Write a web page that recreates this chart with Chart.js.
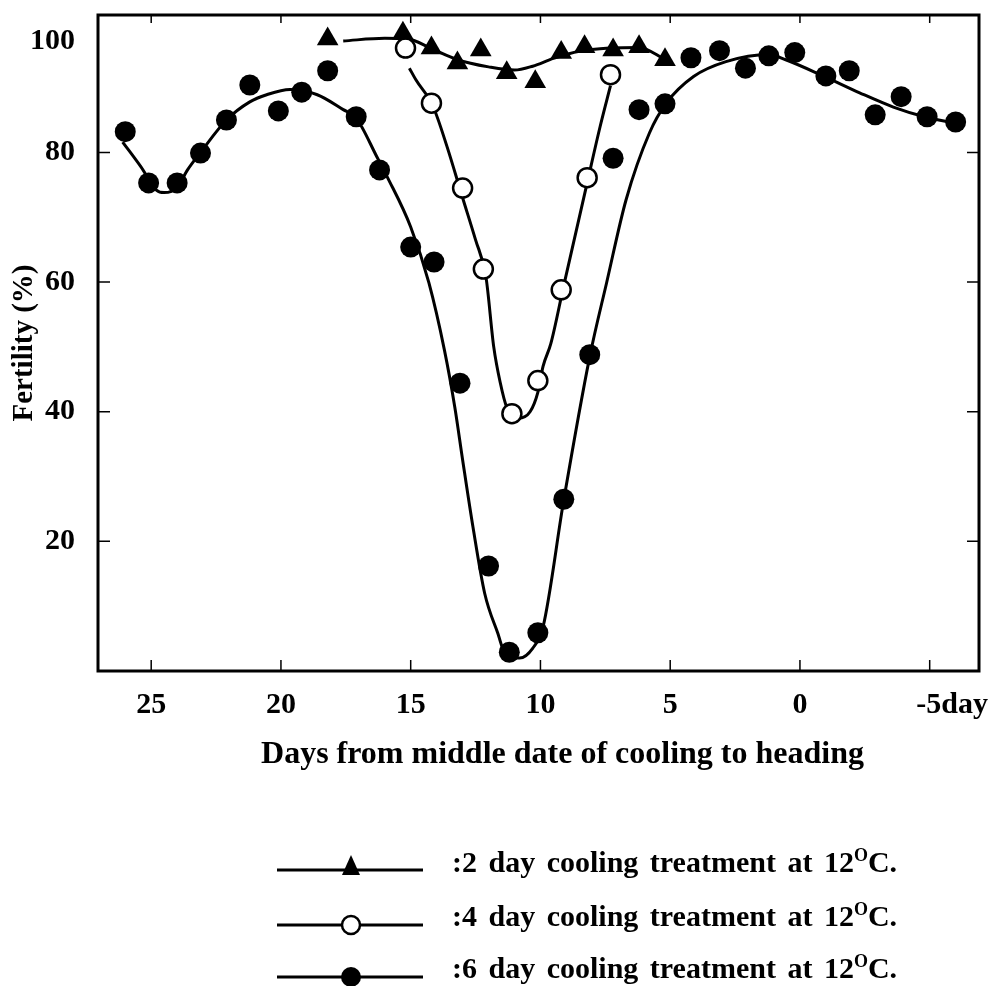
<!DOCTYPE html>
<html>
<head>
<meta charset="utf-8">
<title>Fertility after cooling treatment</title>
<script src="https://cdn.jsdelivr.net/npm/chart.js@4.4.1/dist/chart.umd.min.js"></script>
<style>
	html, body { margin: 0; padding: 0; background: #fff; overflow: hidden; }
	#wrap { position: relative; width: 994px; height: 986px; overflow: hidden; }
	#fertilityChart { position: absolute; left: 0; top: 0; }
	.key { position: absolute; left: 277px; }
	.key-text {
		position: absolute;
		left: 452px;
		font: bold 30px 'Liberation Serif', 'Times New Roman', serif;
		line-height: 30px;
		word-spacing: 4px;
		white-space: nowrap;
		color: #000;
	}
	.key-text sup { font-size: 60%; vertical-align: super; line-height: 0; }
</style>
</head>
<body>
<div id="wrap">
	<canvas id="fertilityChart" width="994" height="1000"></canvas>

	<svg class="key" style="top:855px" width="146" height="30">
		<line x1="0" y1="15" x2="146" y2="15" stroke="#000" stroke-width="3"/>
		<polygon points="74,0 65,20 83,20" fill="#000"/>
	</svg>
	<div class="key-text" style="top:847px">:2 day cooling treatment at 12<sup>O</sup>C.</div>

	<svg class="key" style="top:910px" width="146" height="30">
		<line x1="0" y1="15" x2="146" y2="15" stroke="#000" stroke-width="3"/>
		<circle cx="74" cy="15" r="9" fill="#fff" stroke="#000" stroke-width="2.5"/>
	</svg>
	<div class="key-text" style="top:901px">:4 day cooling treatment at 12<sup>O</sup>C.</div>

	<svg class="key" style="top:962px" width="146" height="30">
		<line x1="0" y1="15" x2="146" y2="15" stroke="#000" stroke-width="3"/>
		<circle cx="74" cy="15" r="10" fill="#000"/>
	</svg>
	<div class="key-text" style="top:953px">:6 day cooling treatment at 12<sup>O</sup>C.</div>
</div>

<script>
	// ticks
	const xTickValues = [25, 20, 15, 10, 5, 0, -5];
	const xTickLabels = ['25', '20', '15', '10', '5', '0', '-5day'];
	const yTickValues = [20, 40, 60, 80, 100];

	// measured points: days from middle date of cooling to heading, fertility (%)
	const twoDayDays = [18.2, 15.3, 14.2, 13.2, 12.3, 11.3, 10.2, 9.2, 8.3, 7.2, 6.2, 5.2];
	const twoDayFertility = [97.5, 98.4, 96.1, 93.8, 95.8, 92.3, 90.9, 95.4, 96.3, 95.8, 96.3, 94.3];

	const fourDayDays = [15.2, 14.2, 13.0, 12.2, 11.1, 10.1, 9.2, 8.2, 7.3];
	const fourDayFertility = [96.1, 87.6, 74.5, 62.0, 39.7, 44.8, 58.8, 76.1, 92.0];

	const sixDayDays = [26.0, 25.1, 24.0, 23.1, 22.1, 21.2, 20.1, 19.2, 18.2, 17.1, 16.2, 15.0, 14.1, 13.1, 12.0, 11.2, 10.1, 9.1, 8.1, 7.2, 6.2, 5.2, 4.2, 3.1, 2.1, 1.2, 0.2, -1.0, -1.9, -2.9, -3.9, -4.9, -6.0];
	const sixDayFertility = [83.2, 75.3, 75.3, 79.9, 85.0, 90.4, 86.4, 89.3, 92.6, 85.5, 77.3, 65.4, 63.1, 44.4, 16.2, 2.9, 5.9, 26.5, 48.8, 79.1, 86.6, 87.5, 94.6, 95.7, 93.0, 94.9, 95.4, 91.8, 92.6, 85.8, 88.6, 85.5, 84.7];

	// hand drawn fitted curves
	const twoDayCurveDays = [17.6, 16.0, 15.1, 14.2, 13.2, 12.0, 11.0, 10.3, 9.5, 8.5, 7.3, 6.2, 5.15];
	const twoDayCurveFertility = [97.2, 97.6, 97.5, 96.0, 94.3, 93.2, 92.7, 93.3, 94.5, 95.6, 96.1, 96.2, 94.2];

	const fourDayCurveDays = [15.05, 14.8, 14.15, 13.6, 13.0, 12.5, 12.1, 11.8, 11.55, 11.3, 10.85, 10.4, 10.1, 9.9, 9.6, 9.1, 8.2, 7.7, 7.3];
	const fourDayCurveFertility = [93.0, 91.2, 87.2, 80.9, 73.0, 66.5, 60.8, 50.0, 44.5, 40.7, 39.0, 40.0, 43.0, 47.0, 50.5, 59.5, 75.3, 84.0, 90.3];

	const sixDayCurveDays = [26.1, 25.4, 24.8, 24.5, 24.0, 23.6, 23.1, 22.1, 21.2, 20.55, 19.65, 18.6, 17.6, 17.1, 16.3, 15.9, 15.0, 14.3, 13.7, 13.3, 13.0, 12.6, 12.15, 11.65, 11.3, 10.8, 10.3, 9.9, 9.1, 8.1, 7.45, 6.7, 5.8, 5.15, 4.1, 2.85, 1.2, 0.55, -0.95, -2.3, -3.6, -4.8, -6.0];
	const sixDayCurveFertility = [81.6, 77.8, 74.2, 73.8, 74.6, 77.3, 80.0, 85.0, 87.8, 88.9, 89.7, 88.9, 86.6, 85.3, 79.3, 76.2, 68.5, 59.9, 49.5, 40.7, 32.6, 22.2, 12.0, 5.9, 2.2, 2.0, 3.5, 6.8, 26.4, 48.5, 59.9, 72.7, 83.0, 87.6, 91.7, 94.0, 95.1, 94.3, 91.7, 89.2, 87.0, 85.5, 84.5];

	const serif = "'Liberation Serif', 'Times New Roman', serif";

	function toPoints(days, values) {
		return days.map((day, i) => ({ x: day, y: values[i] }));
	}

	function markerSet(label, days, values, style) {
		return Object.assign({
			label: label,
			data: toPoints(days, values),
			showLine: false,
			borderColor: '#000',
			clip: false,
			order: 0
		}, style);
	}

	function curveSet(label, days, values) {
		return {
			label: label,
			data: toPoints(days, values),
			showLine: true,
			pointRadius: 0,
			borderColor: '#000',
			borderWidth: 3,
			cubicInterpolationMode: 'monotone',
			fill: false,
			order: 1
		};
	}

	// box round the plot with short inward ticks on all four sides
	const frameTicks = {
		id: 'frameTicks',
		afterDraw(chart) {
			const { ctx, chartArea: area, scales: { x, y } } = chart;
			ctx.save();
			ctx.strokeStyle = '#000';
			ctx.lineWidth = 3;
			ctx.strokeRect(area.left, area.top, area.right - area.left, area.bottom - area.top);
			ctx.lineWidth = 1.5;
			ctx.beginPath();
			xTickValues.forEach((value) => {
				const px = x.getPixelForValue(value);
				ctx.moveTo(px, area.bottom);
				ctx.lineTo(px, area.bottom - 11);
				ctx.moveTo(px, area.top);
				ctx.lineTo(px, area.top + 8);
			});
			yTickValues.filter((value) => value < 100).forEach((value) => {
				const py = y.getPixelForValue(value);
				ctx.moveTo(area.left, py);
				ctx.lineTo(area.left + 12, py);
				ctx.moveTo(area.right, py);
				ctx.lineTo(area.right - 12, py);
			});
			ctx.stroke();
			ctx.restore();
		}
	};

	new Chart(document.getElementById('fertilityChart'), {
		type: 'scatter',
		data: {
			datasets: [
				markerSet('2 day cooling treatment at 12°C', twoDayDays, twoDayFertility, {
					pointStyle: 'triangle',
					pointRadius: 12.5,
					backgroundColor: '#000',
					borderWidth: 0
				}),
				markerSet('4 day cooling treatment at 12°C', fourDayDays, fourDayFertility, {
					pointStyle: 'circle',
					pointRadius: 9.5,
					backgroundColor: '#fff',
					borderWidth: 2.5
				}),
				markerSet('6 day cooling treatment at 12°C', sixDayDays, sixDayFertility, {
					pointStyle: 'circle',
					pointRadius: 10.5,
					backgroundColor: '#000',
					borderWidth: 0
				}),
				curveSet('2 day curve', twoDayCurveDays, twoDayCurveFertility),
				curveSet('4 day curve', fourDayCurveDays, fourDayCurveFertility),
				curveSet('6 day curve', sixDayCurveDays, sixDayCurveFertility)
			]
		},
		options: {
			responsive: false,
			animation: false,
			devicePixelRatio: 1,
			layout: {
				padding: { top: 15, right: 15, bottom: 219, left: 0 }
			},
			plugins: {
				legend: { display: false },
				tooltip: { enabled: false }
			},
			scales: {
				x: {
					type: 'linear',
					min: -6.9,
					max: 27.05,
					reverse: true,
					grid: { display: false },
					border: { display: false },
					afterBuildTicks: function(scale) {
						scale.ticks = xTickValues.map((value) => ({ value: value }));
					},
					afterFit: function(scale) {
						scale.height = 110;
						scale.paddingLeft = 0;
						scale.paddingRight = 0;
					},
					ticks: {
						color: '#000',
						padding: 8,
						maxRotation: 0,
						font: { family: serif, size: 30, weight: 'bold' },
						callback: function(value, index) {
							const label = xTickLabels[index];
							return value === -5 ? '      ' + label : label;
						}
					},
					title: {
						display: true,
						text: '      Days from middle date of cooling to heading',
						color: '#000',
						font: { family: serif, size: 32, weight: 'bold' },
						padding: { top: 0, bottom: 7 }
					}
				},
				y: {
					min: 0,
					max: 101.2,
					grid: { display: false },
					border: { display: false },
					afterBuildTicks: function(scale) {
						scale.ticks = yTickValues.map((value) => ({ value: value }));
					},
					afterFit: function(scale) {
						scale.width = 98;
						scale.paddingTop = 0;
						scale.paddingBottom = 0;
					},
					ticks: {
						color: '#000',
						padding: 15,
						font: { family: serif, size: 30, weight: 'bold' },
						callback: function(value) {
							// the top label sits a little below the frame in the original
							return value === 100 ? ['', '100'] : String(value);
						}
					},
					title: {
						display: true,
						text: 'Fertility (%)',
						color: '#000',
						font: { family: serif, size: 29, weight: 'bold' },
						padding: { top: 7, bottom: 0 }
					}
				}
			}
		},
		plugins: [frameTicks]
	});
</script>
</body>
</html>
